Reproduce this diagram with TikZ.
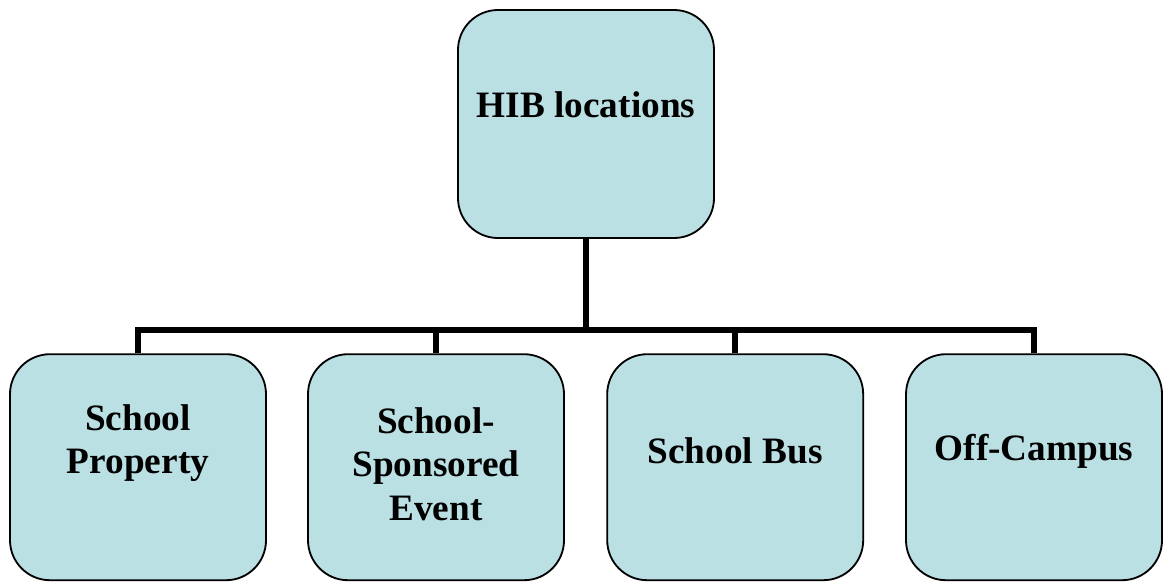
\documentclass[tikz,border=0pt]{standalone}
\usepackage{fontspec}
\setmainfont{Liberation Serif}
\definecolor{boxfill}{HTML}{BBE0E3}
\tikzset{
    box/.style={draw=black, line width=1.3pt, fill=boxfill, rounded corners=1cm,
        minimum width=6.4cm, minimum height=5.65cm, inner sep=0pt},
    boxtext/.style={align=center, font=\bfseries\fontsize{26.5}{30.8}\selectfont},
    link/.style={draw=black, line width=4.2pt}
}
\begin{document}
\begin{tikzpicture}
        \useasboundingbox (0, 0) rectangle (29.25, -14.6);
        \node[box, minimum height=5.7cm] at (14.65, -3.1) (hib) {};
        \node[box] at (3.45, -11.68) (prop) {};
        \node[box] at (10.9, -11.68) (event) {};
        \node[box] at (18.38, -11.68) (bus) {};
        \node[box] at (25.85, -11.68) (off) {};
        \node[boxtext] at (14.65, -2.62) (hibtext) {HIB locations};
        \node[boxtext] at (3.45, -11.08) (proptext) {School\\Property};
        \node[boxtext] at (10.9, -11.6) (eventtext) {School-\\Sponsored\\Event};
        \node[boxtext] at (18.38, -11.28) (bustext) {School Bus};
        \node[boxtext] at (25.85, -11.28) (offtext) {Off-Campus};
        \coordinate (bar) at (14.65, -8.25);
        \draw[link] (hib.south) -- (bar);
        \draw[link] (prop.north) |- (bar) -| (off.north);
        \foreach \x in {event, bus} {
            \draw[link] (\x.north) -- (\x.north |- bar);
        }
    \end{tikzpicture}
\end{document}
